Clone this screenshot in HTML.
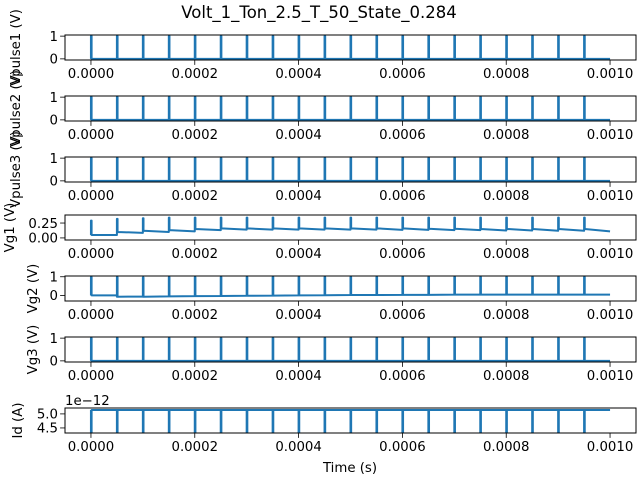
<!DOCTYPE html>
<html><head><meta charset="utf-8"><style>
html,body{margin:0;padding:0;background:#fff}
svg{display:block;font-family:"DejaVu Sans","Liberation Sans",sans-serif}
</style></head><body>
<svg id="fig" width="640" height="480" viewBox="0 0 640 480">
<text x="319" y="18" font-size="16.5" text-anchor="middle">Volt_1_Ton_2.5_T_50_State_0.284</text>
</svg>
<script>
// ---- data ----
const pulseTimes = [0,0.00005,0.0001,0.00015,0.0002,0.00025,0.0003,0.00035,0.0004,0.00045,0.0005,0.00055,0.0006,0.00065,0.0007,0.00075,0.0008,0.00085,0.0009,0.00095];
const xTicks = [0,0.0002,0.0004,0.0006,0.0008,0.001];
const xTickLabels = ["0.0000","0.0002","0.0004","0.0006","0.0008","0.0010"];
const pulseBase = [0,0,0,0,0,0,0,0,0,0,0,0,0,0,0,0,0,0,0,0];
const pulsePeak = [1,1,1,1,1,1,1,1,1,1,1,1,1,1,1,1,1,1,1,1];
const vg1Start = [0.05,0.10,0.12,0.13,0.15,0.16,0.16,0.16,0.16,0.16,0.16,0.16,0.16,0.155,0.155,0.15,0.15,0.15,0.15,0.15];
const vg1End   = [0.05,0.085,0.10,0.11,0.13,0.14,0.14,0.14,0.14,0.14,0.14,0.135,0.135,0.13,0.13,0.125,0.125,0.12,0.12,0.11];
const vg1Peak  = [0.29,0.32,0.33,0.34,0.34,0.34,0.34,0.34,0.34,0.34,0.34,0.34,0.34,0.34,0.34,0.34,0.34,0.34,0.34,0.34];
const vg2Start = [0.0,-0.07,-0.07,-0.05,-0.04,-0.03,-0.02,-0.01,0.0,0.01,0.02,0.02,0.03,0.03,0.04,0.04,0.04,0.04,0.04,0.04];
const vg2End   = [0.0,-0.06,-0.05,-0.04,-0.03,-0.02,-0.01,0.0,0.01,0.02,0.02,0.03,0.03,0.04,0.04,0.04,0.04,0.04,0.04,0.04];
const vg2Peak  = [0.98,0.97,0.96,0.97,0.97,0.98,0.98,0.98,0.98,0.98,0.98,0.98,0.98,0.98,0.98,0.98,0.98,0.98,0.98,0.98];
const idBase = [5.14,5.14,5.14,5.14,5.14,5.14,5.14,5.14,5.14,5.14,5.14,5.14,5.14,5.14,5.14,5.14,5.14,5.14,5.14,5.14];
const idPeak = [4.2,4.2,4.2,4.2,4.2,4.2,4.2,4.2,4.2,4.2,4.2,4.2,4.2,4.2,4.2,4.2,4.2,4.2,4.2,4.2];
const pulseWidth = 0.00000125, tEnd = 0.001;

const panels = [
 {name:"vpulse1",label:"Vpulse1 (V)",top:35,bot:60,ymin:-0.05,ymax:1.05,yt:[0,1],ytl:["0","1"],s:pulseBase,e:pulseBase,p:pulsePeak,lx:20},
 {name:"vpulse2",label:"Vpulse2 (V)",top:96,bot:121,ymin:-0.05,ymax:1.05,yt:[0,1],ytl:["0","1"],s:pulseBase,e:pulseBase,p:pulsePeak,lx:20},
 {name:"vpulse3",label:"Vpulse3 (V)",top:157,bot:182,ymin:-0.05,ymax:1.05,yt:[0,1],ytl:["0","1"],s:pulseBase,e:pulseBase,p:pulsePeak,lx:20},
 {name:"vg1",label:"Vg1 (V)",top:215,bot:240,ymin:-0.035,ymax:0.385,yt:[0,0.25],ytl:["0.00","0.25"],s:vg1Start,e:vg1End,p:vg1Peak,lx:14},
 {name:"vg2",label:"Vg2 (V)",top:276,bot:301,ymin:-0.3,ymax:1.04,yt:[0,1],ytl:["0","1"],s:vg2Start,e:vg2End,p:vg2Peak,lx:37},
 {name:"vg3",label:"Vg3 (V)",top:337,bot:362,ymin:-0.05,ymax:1.05,yt:[0,1],ytl:["0","1"],s:pulseBase,e:pulseBase,p:pulsePeak,lx:37},
 {name:"id",label:"Id (A)",top:408,bot:433,ymin:4.32,ymax:5.21,yt:[4.5,5.0],ytl:["4.5","5.0"],s:idBase,e:idBase,p:idPeak,lx:22,offset:"1e\u221212"}
];
const NS="http://www.w3.org/2000/svg";
const svg=document.getElementById("fig");
const L=65,R=636,xmin=-0.00005,xmax=0.00105;
const X=t=>L+(t-xmin)/(xmax-xmin)*(R-L);
function mk(tag,attrs,parent){const el=document.createElementNS(NS,tag);for(const k in attrs)el.setAttribute(k,attrs[k]);(parent||svg).appendChild(el);return el;}
panels.forEach(pn=>{
  const Y=v=>pn.bot-(v-pn.ymin)/(pn.ymax-pn.ymin)*(pn.bot-pn.top);
  const g=mk("g",{});
  
  
  const cp="cp-"+pn.name;
  const cl=mk("clipPath",{id:cp},g);mk("rect",{x:L,y:pn.top,width:R-L,height:pn.bot-pn.top},cl);
  let d="";
  pulseTimes.forEach((t,i)=>{
    const next=i+1<pulseTimes.length?pulseTimes[i+1]:tEnd;
    d+=(i===0?"M":"L")+X(t).toFixed(2)+","+Y(pn.s[i]).toFixed(2);
    d+="L"+X(t).toFixed(2)+","+Y(pn.p[i]).toFixed(2);
    d+="L"+X(t+pulseWidth).toFixed(2)+","+Y(pn.p[i]).toFixed(2);
    d+="L"+X(t+pulseWidth).toFixed(2)+","+Y(pn.s[i]).toFixed(2);
    d+="L"+X(next).toFixed(2)+","+Y(pn.e[i]).toFixed(2);
  });
  const line=mk("path",{d:d,fill:"none",stroke:"#1f77b4","stroke-width":2,"stroke-linejoin":"round","clip-path":"url(#"+cp+")"},g);
  
  
  const fr=mk("rect",{x:L,y:pn.top,width:R-L,height:pn.bot-pn.top,fill:"none",stroke:"#000","stroke-width":1},g);
  
  
  xTicks.forEach((t,i)=>{
    mk("line",{x1:X(t),x2:X(t),y1:pn.bot,y2:pn.bot+4.9,stroke:"#000","stroke-width":0.8},g);
    const tx=mk("text",{x:X(t),y:pn.bot+18,"font-size":13.3,"text-anchor":"middle"},g);
    tx.textContent=xTickLabels[i];
    
    
  });
  pn.yt.forEach((v,i)=>{
    mk("line",{x1:L-4.9,x2:L,y1:Y(v),y2:Y(v),stroke:"#000","stroke-width":0.8},g);
    const tx=mk("text",{x:L-7,y:Y(v)+4.8,"font-size":13.3,"text-anchor":"end"},g);
    tx.textContent=pn.ytl[i];
    
    
  });
  const cy=(pn.top+pn.bot)/2;
  const yl=mk("text",{x:pn.lx,y:cy,"font-size":13.3,"text-anchor":"middle",transform:"rotate(-90 "+pn.lx+" "+cy+")"},g);
  yl.textContent=pn.label;
  
  
  if(pn.offset){
    const ot=mk("text",{x:L,y:pn.top-3,"font-size":13.3},g);
    ot.textContent=pn.offset;
    
    
  }
});
const xl=mk("text",{x:350,y:472,"font-size":13.3,"text-anchor":"middle"});
xl.textContent="Time (s)";


</script>
</body></html>
